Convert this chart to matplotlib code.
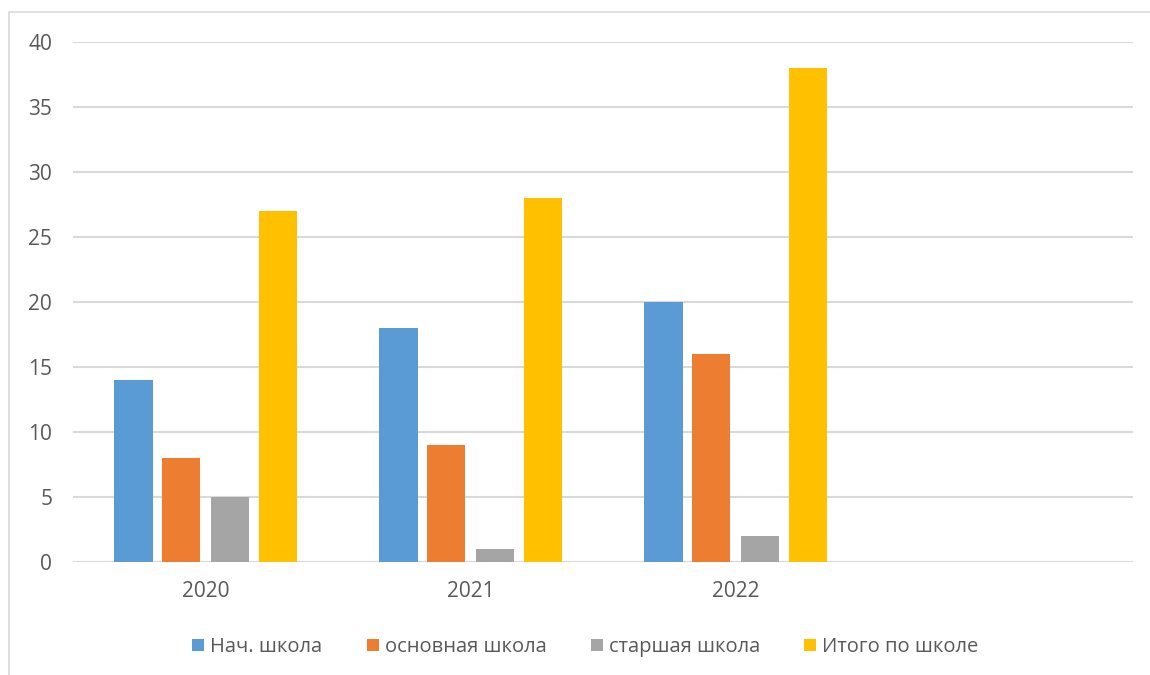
import matplotlib
matplotlib.use("Agg")
import matplotlib.pyplot as plt
from matplotlib.patches import Rectangle

categories = ["2020", "2021", "2022", ""]
series_names = ["Нач. школа", "основная школа", "старшая школа", "Итого по школе"]
nach = [14, 18, 20, None]
osnov = [8, 9, 16, None]
starsh = [5, 1, 2, None]
itogo = [27, 28, 38, None]
colors = ["#5B9BD5", "#ED7D31", "#A5A5A5", "#FFC000"]
yticks = [0, 5, 10, 15, 20, 25, 30, 35, 40]

plt.rcParams['font.family'] = ['Open Sans', 'DejaVu Sans']

fig = plt.figure(figsize=(11.5, 6.75), dpi=100)
ax = fig.add_axes([73/1150, 1-562/675, (1133-73)/1150, (562-42)/675])

series = [nach, osnov, starsh, itogo]
offsets = [-0.2717, -0.0906, 0.0906, 0.2717]
width = 0.1434
for vals, off, col, name in zip(series, offsets, colors, series_names):
    xs = [i + off for i, v in enumerate(vals) if v is not None]
    ys = [v for v in vals if v is not None]
    ax.bar(xs, ys, width=width, color=col, label=name, zorder=3)

ax.set_xlim(-0.5, len(categories) - 0.5)
ax.set_ylim(0, 40)
ax.set_yticks(yticks)
ax.set_xticks(range(len(categories)))
ax.set_xticklabels(categories)
for s in ax.spines.values():
    s.set_visible(False)
ax.grid(axis='y', color='#D9D9D9', linewidth=1.5, zorder=0)
ax.tick_params(axis='both', length=0, labelsize=15, colors='#595959')
ax.tick_params(axis='y', pad=15)
ax.tick_params(axis='x', pad=14)

leg = fig.legend(loc='center', bbox_to_anchor=(0.509, 1-647/675), ncol=4, frameon=False,
                 fontsize=14.5, handlelength=0.6, handleheight=0.6, handletextpad=0.3,
                 columnspacing=2.2, labelcolor='#595959')

fig.patches.append(Rectangle((9/1150, -0.1), 1.2, 1-12/675+0.1, transform=fig.transFigure,
                             fill=False, edgecolor='#D9D9D9', linewidth=1.2))

fig.savefig("out.png", dpi=100)
